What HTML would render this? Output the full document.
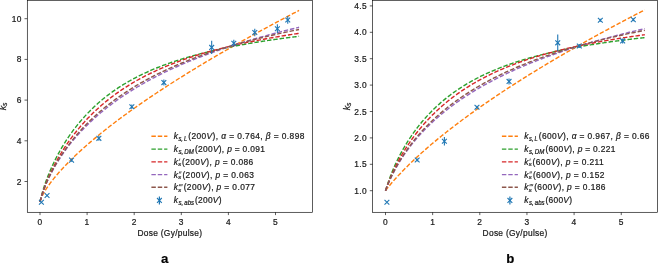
<!DOCTYPE html>
<html><head><meta charset="utf-8"><title>chart</title>
<style>html,body{margin:0;padding:0;background:#fff;}body{width:658px;height:264px;overflow:hidden;font-family:"Liberation Sans",sans-serif;}svg{display:block;will-change:transform;}text{stroke:#1a1a1a;stroke-width:0.22px;}</style>
</head><body>
<svg width="658" height="264" viewBox="0 0 658 264" font-family="'Liberation Sans', sans-serif" fill="#1a1a1a" letter-spacing="0.3">
<g>
<path d="M40.00 201.85 L41.18 198.15 L42.35 195.61 L43.53 193.39 L44.71 191.36 L45.89 189.46 L47.06 187.66 L48.24 185.93 L49.42 184.28 L50.60 182.68 L51.77 181.13 L52.95 179.62 L54.13 178.15 L55.31 176.71 L56.48 175.31 L57.66 173.93 L58.84 172.58 L60.02 171.25 L61.20 169.95 L62.37 168.66 L63.55 167.40 L64.73 166.15 L65.91 164.92 L67.08 163.70 L68.26 162.50 L69.44 161.32 L70.62 160.15 L71.79 158.99 L72.97 157.85 L74.15 156.71 L75.33 155.59 L76.50 154.48 L77.68 153.38 L78.86 152.29 L80.03 151.21 L81.21 150.14 L82.39 149.07 L83.57 148.02 L84.75 146.97 L85.92 145.94 L87.10 144.91 L88.28 143.88 L89.46 142.87 L90.63 141.86 L91.81 140.86 L92.99 139.87 L94.16 138.88 L95.34 137.90 L96.52 136.92 L97.70 135.96 L98.88 134.99 L100.05 134.04 L101.23 133.08 L102.41 132.14 L103.59 131.20 L104.76 130.26 L105.94 129.33 L107.12 128.41 L108.30 127.49 L109.47 126.57 L110.65 125.66 L111.83 124.75 L113.01 123.85 L114.18 122.95 L115.36 122.06 L116.54 121.17 L117.72 120.28 L118.89 119.40 L120.07 118.53 L121.25 117.65 L122.42 116.78 L123.60 115.92 L124.78 115.05 L125.96 114.20 L127.14 113.34 L128.31 112.49 L129.49 111.64 L130.67 110.80 L131.84 109.95 L133.02 109.12 L134.20 108.28 L135.38 107.45 L136.56 106.62 L137.73 105.79 L138.91 104.97 L140.09 104.15 L141.26 103.34 L142.44 102.52 L143.62 101.71 L144.80 100.90 L145.98 100.10 L147.15 99.29 L148.33 98.49 L149.51 97.70 L150.69 96.90 L151.86 96.11 L153.04 95.32 L154.22 94.53 L155.40 93.75 L156.57 92.96 L157.75 92.18 L158.93 91.41 L160.10 90.63 L161.28 89.86 L162.46 89.09 L163.64 88.32 L164.81 87.55 L165.99 86.79 L167.17 86.03 L168.35 85.27 L169.53 84.51 L170.70 83.75 L171.88 83.00 L173.06 82.25 L174.24 81.50 L175.41 80.75 L176.59 80.01 L177.77 79.26 L178.95 78.52 L180.12 77.78 L181.30 77.04 L182.48 76.31 L183.66 75.57 L184.83 74.84 L186.01 74.11 L187.19 73.38 L188.37 72.65 L189.54 71.93 L190.72 71.21 L191.90 70.48 L193.08 69.76 L194.25 69.05 L195.43 68.33 L196.61 67.62 L197.78 66.90 L198.96 66.19 L200.14 65.48 L201.32 64.77 L202.50 64.07 L203.67 63.36 L204.85 62.66 L206.03 61.95 L207.20 61.25 L208.38 60.55 L209.56 59.86 L210.74 59.16 L211.91 58.47 L213.09 57.77 L214.27 57.08 L215.45 56.39 L216.62 55.70 L217.80 55.01 L218.98 54.33 L220.16 53.64 L221.34 52.96 L222.51 52.28 L223.69 51.60 L224.87 50.92 L226.05 50.24 L227.22 49.56 L228.40 48.89 L229.58 48.21 L230.75 47.54 L231.93 46.87 L233.11 46.20 L234.29 45.53 L235.47 44.86 L236.64 44.20 L237.82 43.53 L239.00 42.87 L240.18 42.20 L241.35 41.54 L242.53 40.88 L243.71 40.22 L244.88 39.56 L246.06 38.91 L247.24 38.25 L248.42 37.60 L249.60 36.94 L250.77 36.29 L251.95 35.64 L253.13 34.99 L254.31 34.34 L255.48 33.69 L256.66 33.04 L257.84 32.40 L259.01 31.75 L260.19 31.11 L261.37 30.47 L262.55 29.83 L263.73 29.19 L264.90 28.55 L266.08 27.91 L267.26 27.27 L268.44 26.63 L269.61 26.00 L270.79 25.36 L271.97 24.73 L273.14 24.10 L274.32 23.47 L275.50 22.84 L276.68 22.21 L277.86 21.58 L279.03 20.95 L280.21 20.32 L281.39 19.70 L282.57 19.07 L283.74 18.45 L284.92 17.83 L286.10 17.20 L287.27 16.58 L288.45 15.96 L289.63 15.34 L290.81 14.72 L291.99 14.11 L293.16 13.49 L294.34 12.88 L295.52 12.26 L296.69 11.65 L297.87 11.03 L299.05 10.42" fill="none" stroke="#ff7f0e" stroke-width="1.40" stroke-dasharray="4.44 1.92"/>
<path d="M40.00 201.85 L41.18 196.86 L42.35 192.52 L43.53 188.59 L44.71 184.97 L45.89 181.58 L47.06 178.39 L48.24 175.35 L49.42 172.46 L50.60 169.68 L51.77 167.02 L52.95 164.45 L54.13 161.98 L55.31 159.59 L56.48 157.27 L57.66 155.02 L58.84 152.84 L60.02 150.72 L61.20 148.66 L62.37 146.66 L63.55 144.71 L64.73 142.80 L65.91 140.95 L67.08 139.14 L68.26 137.37 L69.44 135.65 L70.62 133.96 L71.79 132.32 L72.97 130.71 L74.15 129.13 L75.33 127.59 L76.50 126.08 L77.68 124.61 L78.86 123.17 L80.03 121.75 L81.21 120.37 L82.39 119.01 L83.57 117.68 L84.75 116.38 L85.92 115.10 L87.10 113.85 L88.28 112.62 L89.46 111.41 L90.63 110.23 L91.81 109.07 L92.99 107.93 L94.16 106.82 L95.34 105.72 L96.52 104.64 L97.70 103.59 L98.88 102.55 L100.05 101.53 L101.23 100.53 L102.41 99.55 L103.59 98.58 L104.76 97.63 L105.94 96.70 L107.12 95.79 L108.30 94.88 L109.47 94.00 L110.65 93.13 L111.83 92.27 L113.01 91.43 L114.18 90.60 L115.36 89.79 L116.54 88.99 L117.72 88.20 L118.89 87.43 L120.07 86.67 L121.25 85.92 L122.42 85.18 L123.60 84.45 L124.78 83.74 L125.96 83.03 L127.14 82.34 L128.31 81.66 L129.49 80.99 L130.67 80.33 L131.84 79.67 L133.02 79.03 L134.20 78.40 L135.38 77.78 L136.56 77.17 L137.73 76.56 L138.91 75.97 L140.09 75.38 L141.26 74.80 L142.44 74.23 L143.62 73.67 L144.80 73.12 L145.98 72.57 L147.15 72.03 L148.33 71.50 L149.51 70.98 L150.69 70.46 L151.86 69.95 L153.04 69.45 L154.22 68.96 L155.40 68.47 L156.57 67.99 L157.75 67.51 L158.93 67.04 L160.10 66.58 L161.28 66.12 L162.46 65.67 L163.64 65.22 L164.81 64.79 L165.99 64.35 L167.17 63.92 L168.35 63.50 L169.53 63.08 L170.70 62.67 L171.88 62.26 L173.06 61.86 L174.24 61.47 L175.41 61.07 L176.59 60.69 L177.77 60.30 L178.95 59.93 L180.12 59.55 L181.30 59.18 L182.48 58.82 L183.66 58.46 L184.83 58.10 L186.01 57.75 L187.19 57.40 L188.37 57.06 L189.54 56.72 L190.72 56.38 L191.90 56.05 L193.08 55.72 L194.25 55.40 L195.43 55.08 L196.61 54.76 L197.78 54.45 L198.96 54.14 L200.14 53.83 L201.32 53.53 L202.50 53.22 L203.67 52.93 L204.85 52.63 L206.03 52.34 L207.20 52.06 L208.38 51.77 L209.56 51.49 L210.74 51.21 L211.91 50.93 L213.09 50.66 L214.27 50.39 L215.45 50.12 L216.62 49.86 L217.80 49.60 L218.98 49.34 L220.16 49.08 L221.34 48.83 L222.51 48.58 L223.69 48.33 L224.87 48.08 L226.05 47.84 L227.22 47.59 L228.40 47.36 L229.58 47.12 L230.75 46.88 L231.93 46.65 L233.11 46.42 L234.29 46.19 L235.47 45.97 L236.64 45.74 L237.82 45.52 L239.00 45.30 L240.18 45.08 L241.35 44.87 L242.53 44.65 L243.71 44.44 L244.88 44.23 L246.06 44.03 L247.24 43.82 L248.42 43.62 L249.60 43.41 L250.77 43.21 L251.95 43.01 L253.13 42.82 L254.31 42.62 L255.48 42.43 L256.66 42.24 L257.84 42.05 L259.01 41.86 L260.19 41.67 L261.37 41.49 L262.55 41.30 L263.73 41.12 L264.90 40.94 L266.08 40.76 L267.26 40.58 L268.44 40.41 L269.61 40.23 L270.79 40.06 L271.97 39.89 L273.14 39.72 L274.32 39.55 L275.50 39.38 L276.68 39.22 L277.86 39.05 L279.03 38.89 L280.21 38.72 L281.39 38.56 L282.57 38.40 L283.74 38.25 L284.92 38.09 L286.10 37.93 L287.27 37.78 L288.45 37.63 L289.63 37.47 L290.81 37.32 L291.99 37.17 L293.16 37.02 L294.34 36.88 L295.52 36.73 L296.69 36.58 L297.87 36.44 L299.05 36.30" fill="none" stroke="#2ca02c" stroke-width="1.40" stroke-dasharray="4.44 1.92"/>
<path d="M40.00 201.85 L41.18 197.45 L42.35 193.56 L43.53 190.02 L44.71 186.73 L45.89 183.64 L47.06 180.72 L48.24 177.93 L49.42 175.26 L50.60 172.70 L51.77 170.23 L52.95 167.85 L54.13 165.54 L55.31 163.30 L56.48 161.13 L57.66 159.02 L58.84 156.97 L60.02 154.96 L61.20 153.01 L62.37 151.11 L63.55 149.25 L64.73 147.43 L65.91 145.65 L67.08 143.92 L68.26 142.22 L69.44 140.55 L70.62 138.92 L71.79 137.32 L72.97 135.76 L74.15 134.22 L75.33 132.71 L76.50 131.24 L77.68 129.79 L78.86 128.36 L80.03 126.97 L81.21 125.60 L82.39 124.25 L83.57 122.92 L84.75 121.62 L85.92 120.35 L87.10 119.09 L88.28 117.85 L89.46 116.64 L90.63 115.45 L91.81 114.27 L92.99 113.12 L94.16 111.98 L95.34 110.86 L96.52 109.76 L97.70 108.68 L98.88 107.61 L100.05 106.56 L101.23 105.53 L102.41 104.51 L103.59 103.51 L104.76 102.53 L105.94 101.55 L107.12 100.60 L108.30 99.66 L109.47 98.73 L110.65 97.81 L111.83 96.91 L113.01 96.02 L114.18 95.15 L115.36 94.29 L116.54 93.44 L117.72 92.60 L118.89 91.77 L120.07 90.96 L121.25 90.16 L122.42 89.37 L123.60 88.58 L124.78 87.82 L125.96 87.06 L127.14 86.31 L128.31 85.57 L129.49 84.84 L130.67 84.12 L131.84 83.41 L133.02 82.71 L134.20 82.02 L135.38 81.34 L136.56 80.67 L137.73 80.01 L138.91 79.35 L140.09 78.71 L141.26 78.07 L142.44 77.44 L143.62 76.82 L144.80 76.20 L145.98 75.60 L147.15 75.00 L148.33 74.41 L149.51 73.83 L150.69 73.25 L151.86 72.68 L153.04 72.12 L154.22 71.56 L155.40 71.02 L156.57 70.47 L157.75 69.94 L158.93 69.41 L160.10 68.89 L161.28 68.37 L162.46 67.86 L163.64 67.36 L164.81 66.86 L165.99 66.37 L167.17 65.88 L168.35 65.40 L169.53 64.93 L170.70 64.46 L171.88 63.99 L173.06 63.53 L174.24 63.08 L175.41 62.63 L176.59 62.19 L177.77 61.75 L178.95 61.31 L180.12 60.88 L181.30 60.46 L182.48 60.04 L183.66 59.62 L184.83 59.21 L186.01 58.81 L187.19 58.40 L188.37 58.01 L189.54 57.61 L190.72 57.22 L191.90 56.84 L193.08 56.46 L194.25 56.08 L195.43 55.71 L196.61 55.34 L197.78 54.97 L198.96 54.61 L200.14 54.25 L201.32 53.90 L202.50 53.54 L203.67 53.20 L204.85 52.85 L206.03 52.51 L207.20 52.17 L208.38 51.84 L209.56 51.51 L210.74 51.18 L211.91 50.86 L213.09 50.54 L214.27 50.22 L215.45 49.91 L216.62 49.59 L217.80 49.28 L218.98 48.98 L220.16 48.68 L221.34 48.38 L222.51 48.08 L223.69 47.78 L224.87 47.49 L226.05 47.20 L227.22 46.92 L228.40 46.63 L229.58 46.35 L230.75 46.07 L231.93 45.80 L233.11 45.52 L234.29 45.25 L235.47 44.98 L236.64 44.72 L237.82 44.45 L239.00 44.19 L240.18 43.93 L241.35 43.67 L242.53 43.42 L243.71 43.17 L244.88 42.92 L246.06 42.67 L247.24 42.42 L248.42 42.18 L249.60 41.94 L250.77 41.70 L251.95 41.46 L253.13 41.22 L254.31 40.99 L255.48 40.76 L256.66 40.53 L257.84 40.30 L259.01 40.07 L260.19 39.85 L261.37 39.63 L262.55 39.40 L263.73 39.19 L264.90 38.97 L266.08 38.75 L267.26 38.54 L268.44 38.33 L269.61 38.12 L270.79 37.91 L271.97 37.70 L273.14 37.50 L274.32 37.29 L275.50 37.09 L276.68 36.89 L277.86 36.69 L279.03 36.49 L280.21 36.30 L281.39 36.10 L282.57 35.91 L283.74 35.72 L284.92 35.53 L286.10 35.34 L287.27 35.15 L288.45 34.97 L289.63 34.78 L290.81 34.60 L291.99 34.42 L293.16 34.24 L294.34 34.06 L295.52 33.88 L296.69 33.70 L297.87 33.53 L299.05 33.35" fill="none" stroke="#d62728" stroke-width="1.40" stroke-dasharray="4.44 1.92"/>
<path d="M40.00 201.85 L41.18 197.63 L42.35 193.93 L43.53 190.57 L44.71 187.47 L45.89 184.56 L47.06 181.83 L48.24 179.23 L49.42 176.75 L50.60 174.37 L51.77 172.09 L52.95 169.88 L54.13 167.76 L55.31 165.70 L56.48 163.71 L57.66 161.77 L58.84 159.89 L60.02 158.06 L61.20 156.27 L62.37 154.53 L63.55 152.83 L64.73 151.17 L65.91 149.55 L67.08 147.96 L68.26 146.41 L69.44 144.89 L70.62 143.40 L71.79 141.94 L72.97 140.50 L74.15 139.10 L75.33 137.72 L76.50 136.36 L77.68 135.03 L78.86 133.72 L80.03 132.43 L81.21 131.16 L82.39 129.92 L83.57 128.69 L84.75 127.49 L85.92 126.30 L87.10 125.13 L88.28 123.98 L89.46 122.84 L90.63 121.72 L91.81 120.62 L92.99 119.53 L94.16 118.46 L95.34 117.40 L96.52 116.36 L97.70 115.33 L98.88 114.32 L100.05 113.32 L101.23 112.33 L102.41 111.35 L103.59 110.39 L104.76 109.43 L105.94 108.49 L107.12 107.56 L108.30 106.65 L109.47 105.74 L110.65 104.84 L111.83 103.96 L113.01 103.08 L114.18 102.22 L115.36 101.36 L116.54 100.52 L117.72 99.68 L118.89 98.85 L120.07 98.03 L121.25 97.22 L122.42 96.42 L123.60 95.63 L124.78 94.85 L125.96 94.07 L127.14 93.30 L128.31 92.54 L129.49 91.79 L130.67 91.05 L131.84 90.31 L133.02 89.58 L134.20 88.86 L135.38 88.14 L136.56 87.43 L137.73 86.73 L138.91 86.04 L140.09 85.35 L141.26 84.67 L142.44 83.99 L143.62 83.32 L144.80 82.66 L145.98 82.00 L147.15 81.35 L148.33 80.70 L149.51 80.06 L150.69 79.43 L151.86 78.80 L153.04 78.18 L154.22 77.56 L155.40 76.95 L156.57 76.34 L157.75 75.74 L158.93 75.14 L160.10 74.55 L161.28 73.97 L162.46 73.38 L163.64 72.81 L164.81 72.24 L165.99 71.67 L167.17 71.11 L168.35 70.55 L169.53 69.99 L170.70 69.44 L171.88 68.90 L173.06 68.36 L174.24 67.82 L175.41 67.29 L176.59 66.76 L177.77 66.24 L178.95 65.72 L180.12 65.20 L181.30 64.69 L182.48 64.18 L183.66 63.68 L184.83 63.18 L186.01 62.68 L187.19 62.19 L188.37 61.70 L189.54 61.21 L190.72 60.73 L191.90 60.25 L193.08 59.77 L194.25 59.30 L195.43 58.83 L196.61 58.37 L197.78 57.90 L198.96 57.45 L200.14 56.99 L201.32 56.54 L202.50 56.09 L203.67 55.64 L204.85 55.20 L206.03 54.76 L207.20 54.32 L208.38 53.89 L209.56 53.46 L210.74 53.03 L211.91 52.60 L213.09 52.18 L214.27 51.76 L215.45 51.34 L216.62 50.93 L217.80 50.52 L218.98 50.11 L220.16 49.70 L221.34 49.30 L222.51 48.90 L223.69 48.50 L224.87 48.10 L226.05 47.71 L227.22 47.32 L228.40 46.93 L229.58 46.54 L230.75 46.16 L231.93 45.78 L233.11 45.40 L234.29 45.02 L235.47 44.65 L236.64 44.27 L237.82 43.90 L239.00 43.54 L240.18 43.17 L241.35 42.81 L242.53 42.45 L243.71 42.09 L244.88 41.73 L246.06 41.37 L247.24 41.02 L248.42 40.67 L249.60 40.32 L250.77 39.98 L251.95 39.63 L253.13 39.29 L254.31 38.95 L255.48 38.61 L256.66 38.27 L257.84 37.94 L259.01 37.61 L260.19 37.28 L261.37 36.95 L262.55 36.62 L263.73 36.29 L264.90 35.97 L266.08 35.65 L267.26 35.33 L268.44 35.01 L269.61 34.69 L270.79 34.38 L271.97 34.07 L273.14 33.75 L274.32 33.44 L275.50 33.14 L276.68 32.83 L277.86 32.53 L279.03 32.22 L280.21 31.92 L281.39 31.62 L282.57 31.32 L283.74 31.03 L284.92 30.73 L286.10 30.44 L287.27 30.14 L288.45 29.85 L289.63 29.56 L290.81 29.28 L291.99 28.99 L293.16 28.71 L294.34 28.42 L295.52 28.14 L296.69 27.86 L297.87 27.58 L299.05 27.30" fill="none" stroke="#9467bd" stroke-width="1.40" stroke-dasharray="4.44 1.92"/>
<path d="M40.00 201.85 L41.18 197.58 L42.35 193.84 L43.53 190.43 L44.71 187.29 L45.89 184.34 L47.06 181.56 L48.24 178.91 L49.42 176.39 L50.60 173.96 L51.77 171.63 L52.95 169.39 L54.13 167.22 L55.31 165.12 L56.48 163.08 L57.66 161.10 L58.84 159.17 L60.02 157.30 L61.20 155.47 L62.37 153.69 L63.55 151.95 L64.73 150.25 L65.91 148.59 L67.08 146.96 L68.26 145.37 L69.44 143.81 L70.62 142.28 L71.79 140.79 L72.97 139.32 L74.15 137.88 L75.33 136.46 L76.50 135.07 L77.68 133.71 L78.86 132.37 L80.03 131.05 L81.21 129.75 L82.39 128.48 L83.57 127.22 L84.75 125.99 L85.92 124.77 L87.10 123.58 L88.28 122.40 L89.46 121.24 L90.63 120.10 L91.81 118.97 L92.99 117.86 L94.16 116.77 L95.34 115.69 L96.52 114.63 L97.70 113.58 L98.88 112.55 L100.05 111.53 L101.23 110.52 L102.41 109.53 L103.59 108.55 L104.76 107.58 L105.94 106.63 L107.12 105.69 L108.30 104.76 L109.47 103.84 L110.65 102.93 L111.83 102.04 L113.01 101.15 L114.18 100.28 L115.36 99.41 L116.54 98.56 L117.72 97.72 L118.89 96.88 L120.07 96.06 L121.25 95.25 L122.42 94.44 L123.60 93.65 L124.78 92.86 L125.96 92.08 L127.14 91.31 L128.31 90.55 L129.49 89.80 L130.67 89.06 L131.84 88.32 L133.02 87.59 L134.20 86.87 L135.38 86.16 L136.56 85.46 L137.73 84.76 L138.91 84.07 L140.09 83.38 L141.26 82.71 L142.44 82.04 L143.62 81.38 L144.80 80.72 L145.98 80.07 L147.15 79.43 L148.33 78.79 L149.51 78.17 L150.69 77.54 L151.86 76.92 L153.04 76.31 L154.22 75.71 L155.40 75.11 L156.57 74.52 L157.75 73.93 L158.93 73.35 L160.10 72.77 L161.28 72.20 L162.46 71.63 L163.64 71.07 L164.81 70.51 L165.99 69.96 L167.17 69.42 L168.35 68.88 L169.53 68.34 L170.70 67.81 L171.88 67.29 L173.06 66.77 L174.24 66.25 L175.41 65.74 L176.59 65.23 L177.77 64.73 L178.95 64.23 L180.12 63.74 L181.30 63.25 L182.48 62.76 L183.66 62.28 L184.83 61.81 L186.01 61.33 L187.19 60.86 L188.37 60.40 L189.54 59.94 L190.72 59.48 L191.90 59.03 L193.08 58.58 L194.25 58.14 L195.43 57.69 L196.61 57.26 L197.78 56.82 L198.96 56.39 L200.14 55.96 L201.32 55.54 L202.50 55.12 L203.67 54.70 L204.85 54.29 L206.03 53.88 L207.20 53.47 L208.38 53.07 L209.56 52.67 L210.74 52.27 L211.91 51.88 L213.09 51.49 L214.27 51.10 L215.45 50.71 L216.62 50.33 L217.80 49.95 L218.98 49.58 L220.16 49.20 L221.34 48.83 L222.51 48.47 L223.69 48.10 L224.87 47.74 L226.05 47.38 L227.22 47.03 L228.40 46.67 L229.58 46.32 L230.75 45.97 L231.93 45.63 L233.11 45.28 L234.29 44.94 L235.47 44.61 L236.64 44.27 L237.82 43.94 L239.00 43.61 L240.18 43.28 L241.35 42.95 L242.53 42.63 L243.71 42.31 L244.88 41.99 L246.06 41.67 L247.24 41.36 L248.42 41.05 L249.60 40.74 L250.77 40.43 L251.95 40.12 L253.13 39.82 L254.31 39.52 L255.48 39.22 L256.66 38.92 L257.84 38.63 L259.01 38.34 L260.19 38.05 L261.37 37.76 L262.55 37.47 L263.73 37.19 L264.90 36.90 L266.08 36.62 L267.26 36.34 L268.44 36.07 L269.61 35.79 L270.79 35.52 L271.97 35.25 L273.14 34.98 L274.32 34.71 L275.50 34.44 L276.68 34.18 L277.86 33.92 L279.03 33.66 L280.21 33.40 L281.39 33.14 L282.57 32.88 L283.74 32.63 L284.92 32.38 L286.10 32.13 L287.27 31.88 L288.45 31.63 L289.63 31.38 L290.81 31.14 L291.99 30.90 L293.16 30.66 L294.34 30.42 L295.52 30.18 L296.69 29.94 L297.87 29.71 L299.05 29.47" fill="none" stroke="#8c564b" stroke-width="1.40" stroke-dasharray="4.44 1.92"/>
<path d="M39.01 199.86 L43.81 204.66 M39.01 204.66 L43.81 199.86" stroke="#1f77b4" stroke-width="1.1" fill="none"/>
<path d="M44.66 193.14 L49.46 197.94 M44.66 197.94 L49.46 193.14" stroke="#1f77b4" stroke-width="1.1" fill="none"/>
<line x1="71.56" y1="158.63" x2="71.56" y2="161.63" stroke="#1f77b4" stroke-width="1.1"/>
<path d="M69.16 157.73 L73.96 162.53 M69.16 162.53 L73.96 157.73" stroke="#1f77b4" stroke-width="1.1" fill="none"/>
<line x1="98.88" y1="135.86" x2="98.88" y2="140.86" stroke="#1f77b4" stroke-width="1.1"/>
<path d="M96.47 135.96 L101.28 140.76 M96.47 140.76 L101.28 135.96" stroke="#1f77b4" stroke-width="1.1" fill="none"/>
<line x1="131.84" y1="104.62" x2="131.84" y2="109.02" stroke="#1f77b4" stroke-width="1.1"/>
<path d="M129.44 104.42 L134.25 109.22 M129.44 109.22 L134.25 104.42" stroke="#1f77b4" stroke-width="1.1" fill="none"/>
<line x1="163.87" y1="79.60" x2="163.87" y2="85.60" stroke="#1f77b4" stroke-width="1.1"/>
<path d="M161.47 80.20 L166.27 85.00 M161.47 85.00 L166.27 80.20" stroke="#1f77b4" stroke-width="1.1" fill="none"/>
<line x1="211.68" y1="40.79" x2="211.68" y2="53.99" stroke="#1f77b4" stroke-width="1.1"/>
<path d="M209.28 44.99 L214.08 49.79 M209.28 49.79 L214.08 44.99" stroke="#1f77b4" stroke-width="1.1" fill="none"/>
<line x1="233.82" y1="39.82" x2="233.82" y2="46.82" stroke="#1f77b4" stroke-width="1.1"/>
<path d="M231.42 40.92 L236.22 45.72 M231.42 45.72 L236.22 40.92" stroke="#1f77b4" stroke-width="1.1" fill="none"/>
<line x1="254.78" y1="28.74" x2="254.78" y2="36.34" stroke="#1f77b4" stroke-width="1.1"/>
<path d="M252.38 30.14 L257.18 34.94 M252.38 34.94 L257.18 30.14" stroke="#1f77b4" stroke-width="1.1" fill="none"/>
<line x1="277.38" y1="24.37" x2="277.38" y2="32.97" stroke="#1f77b4" stroke-width="1.1"/>
<path d="M274.98 26.27 L279.78 31.07 M274.98 31.07 L279.78 26.27" stroke="#1f77b4" stroke-width="1.1" fill="none"/>
<line x1="287.75" y1="16.02" x2="287.75" y2="23.82" stroke="#1f77b4" stroke-width="1.1"/>
<path d="M285.35 17.52 L290.15 22.32 M285.35 22.32 L290.15 17.52" stroke="#1f77b4" stroke-width="1.1" fill="none"/>
<rect x="27.30" y="0.30" width="285.20" height="212.00" fill="none" stroke="#000" stroke-width="0.64"/>
<line x1="40.00" y1="212.30" x2="40.00" y2="215.10" stroke="#000" stroke-width="0.64"/>
<text x="40.00" y="224.60" font-size="8.40" text-anchor="middle">0</text>
<line x1="87.10" y1="212.30" x2="87.10" y2="215.10" stroke="#000" stroke-width="0.64"/>
<text x="87.10" y="224.60" font-size="8.40" text-anchor="middle">1</text>
<line x1="134.20" y1="212.30" x2="134.20" y2="215.10" stroke="#000" stroke-width="0.64"/>
<text x="134.20" y="224.60" font-size="8.40" text-anchor="middle">2</text>
<line x1="181.30" y1="212.30" x2="181.30" y2="215.10" stroke="#000" stroke-width="0.64"/>
<text x="181.30" y="224.60" font-size="8.40" text-anchor="middle">3</text>
<line x1="228.40" y1="212.30" x2="228.40" y2="215.10" stroke="#000" stroke-width="0.64"/>
<text x="228.40" y="224.60" font-size="8.40" text-anchor="middle">4</text>
<line x1="275.50" y1="212.30" x2="275.50" y2="215.10" stroke="#000" stroke-width="0.64"/>
<text x="275.50" y="224.60" font-size="8.40" text-anchor="middle">5</text>
<line x1="24.50" y1="181.50" x2="27.30" y2="181.50" stroke="#000" stroke-width="0.64"/>
<text x="21.60" y="184.51" font-size="8.40" text-anchor="end">2</text>
<line x1="24.50" y1="140.80" x2="27.30" y2="140.80" stroke="#000" stroke-width="0.64"/>
<text x="21.60" y="143.81" font-size="8.40" text-anchor="end">4</text>
<line x1="24.50" y1="100.10" x2="27.30" y2="100.10" stroke="#000" stroke-width="0.64"/>
<text x="21.60" y="103.11" font-size="8.40" text-anchor="end">6</text>
<line x1="24.50" y1="59.40" x2="27.30" y2="59.40" stroke="#000" stroke-width="0.64"/>
<text x="21.60" y="62.41" font-size="8.40" text-anchor="end">8</text>
<line x1="24.50" y1="18.70" x2="27.30" y2="18.70" stroke="#000" stroke-width="0.64"/>
<text x="21.60" y="21.71" font-size="8.40" text-anchor="end">10</text>
<text x="169.90" y="235.60" font-size="8.40" text-anchor="middle">Dose (Gy/pulse)</text>
<text transform="translate(5.80 106.50) rotate(-90)" font-size="9.00" text-anchor="middle" font-style="italic" letter-spacing="0">k<tspan font-size="6.80" dy="1.3" dx="-0.2">s</tspan></text>
<text x="164.60" y="263.20" font-size="13.2" font-weight="bold" fill="#000" letter-spacing="0" text-anchor="middle">a</text>
<line x1="151.40" y1="136.20" x2="167.40" y2="136.20" stroke="#ff7f0e" stroke-width="1.4" stroke-dasharray="4.44 1.92"/>
<text x="173.80" y="139.20" font-size="8.40" font-style="italic">k</text>
<text x="178.40" y="141.10" font-size="6.50" font-style="italic" letter-spacing="0" textLength="8.80" lengthAdjust="spacingAndGlyphs">s,&#8201;L</text>
<text x="188.20" y="139.20" font-size="8.40" textLength="116.50" lengthAdjust="spacing">(200<tspan font-style="italic">V</tspan>), <tspan font-style="italic">α</tspan> = 0.764, <tspan font-style="italic">β</tspan> = 0.898</text>
<line x1="151.40" y1="149.10" x2="167.40" y2="149.10" stroke="#2ca02c" stroke-width="1.4" stroke-dasharray="4.44 1.92"/>
<text x="173.80" y="152.10" font-size="8.40" font-style="italic">k</text>
<text x="178.40" y="154.00" font-size="6.50" font-style="italic" letter-spacing="0" textLength="15.50" lengthAdjust="spacingAndGlyphs">s,&#8201;DM</text>
<text x="194.90" y="152.10" font-size="8.40" textLength="70.20" lengthAdjust="spacing">(200<tspan font-style="italic">V</tspan>), <tspan font-style="italic">p</tspan> = 0.091</text>
<line x1="151.40" y1="161.90" x2="167.40" y2="161.90" stroke="#d62728" stroke-width="1.4" stroke-dasharray="4.44 1.92"/>
<text x="173.80" y="164.90" font-size="8.40" font-style="italic">k</text>
<text x="178.30" y="166.10" font-size="6.00" font-style="italic" letter-spacing="0">s</text>
<line x1="179.85" y1="158.60" x2="179.30" y2="160.80" stroke="#1a1a1a" stroke-width="0.7"/>
<text x="182.00" y="164.90" font-size="8.40" textLength="71.50" lengthAdjust="spacing">(200<tspan font-style="italic">V</tspan>), <tspan font-style="italic">p</tspan> = 0.086</text>
<line x1="151.40" y1="174.60" x2="167.40" y2="174.60" stroke="#9467bd" stroke-width="1.4" stroke-dasharray="4.44 1.92"/>
<text x="173.80" y="177.60" font-size="8.40" font-style="italic">k</text>
<text x="178.30" y="178.80" font-size="6.00" font-style="italic" letter-spacing="0">s</text>
<line x1="179.85" y1="171.30" x2="179.30" y2="173.50" stroke="#1a1a1a" stroke-width="0.7"/>
<line x1="181.10" y1="171.30" x2="180.55" y2="173.50" stroke="#1a1a1a" stroke-width="0.7"/>
<text x="182.40" y="177.60" font-size="8.40" textLength="71.80" lengthAdjust="spacing">(200<tspan font-style="italic">V</tspan>), <tspan font-style="italic">p</tspan> = 0.063</text>
<line x1="151.40" y1="187.30" x2="167.40" y2="187.30" stroke="#8c564b" stroke-width="1.4" stroke-dasharray="4.44 1.92"/>
<text x="173.80" y="190.30" font-size="8.40" font-style="italic">k</text>
<text x="178.30" y="191.50" font-size="6.00" font-style="italic" letter-spacing="0">s</text>
<line x1="179.85" y1="184.00" x2="179.30" y2="186.20" stroke="#1a1a1a" stroke-width="0.7"/>
<line x1="181.10" y1="184.00" x2="180.55" y2="186.20" stroke="#1a1a1a" stroke-width="0.7"/>
<line x1="182.35" y1="184.00" x2="181.80" y2="186.20" stroke="#1a1a1a" stroke-width="0.7"/>
<text x="183.70" y="190.30" font-size="8.40" textLength="71.50" lengthAdjust="spacing">(200<tspan font-style="italic">V</tspan>), <tspan font-style="italic">p</tspan> = 0.077</text>
<line x1="159.40" y1="196.40" x2="159.40" y2="204.40" stroke="#1f77b4" stroke-width="1.2"/>
<path d="M157.00 198.00 L161.80 202.80 M157.00 202.80 L161.80 198.00" stroke="#1f77b4" stroke-width="1.1" fill="none"/>
<text x="173.80" y="203.40" font-size="8.40" font-style="italic">k</text>
<text x="178.40" y="205.30" font-size="6.50" font-style="italic" letter-spacing="0" textLength="15.60" lengthAdjust="spacingAndGlyphs">s,&#8201;abs</text>
<text x="195.00" y="203.40" font-size="8.40" textLength="26.80" lengthAdjust="spacing">(200<tspan font-style="italic">V</tspan>)</text>
<path d="M385.50 190.70 L386.68 189.10 L387.86 187.59 L389.04 186.13 L390.21 184.71 L391.39 183.31 L392.57 181.94 L393.75 180.60 L394.93 179.27 L396.11 177.96 L397.29 176.68 L398.47 175.40 L399.64 174.15 L400.82 172.91 L402.00 171.68 L403.18 170.47 L404.36 169.27 L405.54 168.08 L406.72 166.90 L407.90 165.74 L409.07 164.59 L410.25 163.44 L411.43 162.31 L412.61 161.19 L413.79 160.07 L414.97 158.97 L416.15 157.87 L417.33 156.78 L418.50 155.70 L419.68 154.63 L420.86 153.57 L422.04 152.51 L423.22 151.47 L424.40 150.43 L425.58 149.39 L426.76 148.36 L427.94 147.34 L429.11 146.33 L430.29 145.32 L431.47 144.32 L432.65 143.32 L433.83 142.33 L435.01 141.35 L436.19 140.37 L437.37 139.40 L438.54 138.43 L439.72 137.47 L440.90 136.51 L442.08 135.56 L443.26 134.61 L444.44 133.67 L445.62 132.73 L446.80 131.80 L447.97 130.87 L449.15 129.95 L450.33 129.03 L451.51 128.12 L452.69 127.20 L453.87 126.30 L455.05 125.40 L456.23 124.50 L457.40 123.60 L458.58 122.71 L459.76 121.83 L460.94 120.94 L462.12 120.06 L463.30 119.19 L464.48 118.32 L465.65 117.45 L466.83 116.58 L468.01 115.72 L469.19 114.86 L470.37 114.01 L471.55 113.16 L472.73 112.31 L473.91 111.47 L475.08 110.62 L476.26 109.79 L477.44 108.95 L478.62 108.12 L479.80 107.29 L480.98 106.46 L482.16 105.64 L483.34 104.82 L484.51 104.00 L485.69 103.18 L486.87 102.37 L488.05 101.56 L489.23 100.75 L490.41 99.95 L491.59 99.15 L492.77 98.35 L493.94 97.55 L495.12 96.76 L496.30 95.96 L497.48 95.18 L498.66 94.39 L499.84 93.60 L501.02 92.82 L502.20 92.04 L503.38 91.26 L504.55 90.49 L505.73 89.72 L506.91 88.95 L508.09 88.18 L509.27 87.41 L510.45 86.65 L511.63 85.88 L512.81 85.13 L513.98 84.37 L515.16 83.61 L516.34 82.86 L517.52 82.11 L518.70 81.36 L519.88 80.61 L521.06 79.86 L522.24 79.12 L523.41 78.38 L524.59 77.64 L525.77 76.90 L526.95 76.17 L528.13 75.43 L529.31 74.70 L530.49 73.97 L531.66 73.24 L532.84 72.51 L534.02 71.79 L535.20 71.07 L536.38 70.34 L537.56 69.62 L538.74 68.91 L539.92 68.19 L541.10 67.48 L542.27 66.76 L543.45 66.05 L544.63 65.34 L545.81 64.63 L546.99 63.93 L548.17 63.22 L549.35 62.52 L550.52 61.82 L551.70 61.12 L552.88 60.42 L554.06 59.72 L555.24 59.03 L556.42 58.33 L557.60 57.64 L558.78 56.95 L559.96 56.26 L561.13 55.57 L562.31 54.88 L563.49 54.20 L564.67 53.52 L565.85 52.83 L567.03 52.15 L568.21 51.47 L569.38 50.79 L570.56 50.12 L571.74 49.44 L572.92 48.77 L574.10 48.10 L575.28 47.42 L576.46 46.75 L577.64 46.08 L578.81 45.42 L579.99 44.75 L581.17 44.09 L582.35 43.42 L583.53 42.76 L584.71 42.10 L585.89 41.44 L587.07 40.78 L588.25 40.12 L589.42 39.47 L590.60 38.81 L591.78 38.16 L592.96 37.51 L594.14 36.85 L595.32 36.20 L596.50 35.55 L597.67 34.91 L598.85 34.26 L600.03 33.61 L601.21 32.97 L602.39 32.33 L603.57 31.68 L604.75 31.04 L605.93 30.40 L607.11 29.76 L608.28 29.13 L609.46 28.49 L610.64 27.85 L611.82 27.22 L613.00 26.59 L614.18 25.95 L615.36 25.32 L616.53 24.69 L617.71 24.06 L618.89 23.43 L620.07 22.81 L621.25 22.18 L622.43 21.56 L623.61 20.93 L624.79 20.31 L625.96 19.69 L627.14 19.06 L628.32 18.44 L629.50 17.82 L630.68 17.21 L631.86 16.59 L633.04 15.97 L634.22 15.36 L635.39 14.74 L636.57 14.13 L637.75 13.52 L638.93 12.91 L640.11 12.29 L641.29 11.68 L642.47 11.08 L643.65 10.47 L644.83 9.86" fill="none" stroke="#ff7f0e" stroke-width="1.40" stroke-dasharray="4.44 1.92"/>
<path d="M385.50 190.70 L386.68 186.86 L387.86 183.28 L389.04 179.90 L390.21 176.71 L391.39 173.67 L392.57 170.77 L393.75 167.99 L394.93 165.32 L396.11 162.75 L397.29 160.27 L398.47 157.88 L399.64 155.57 L400.82 153.33 L402.00 151.15 L403.18 149.04 L404.36 146.99 L405.54 145.00 L406.72 143.06 L407.90 141.18 L409.07 139.34 L410.25 137.55 L411.43 135.80 L412.61 134.09 L413.79 132.43 L414.97 130.80 L416.15 129.21 L417.33 127.66 L418.50 126.14 L419.68 124.66 L420.86 123.21 L422.04 121.79 L423.22 120.40 L424.40 119.04 L425.58 117.70 L426.76 116.40 L427.94 115.12 L429.11 113.86 L430.29 112.64 L431.47 111.43 L432.65 110.25 L433.83 109.09 L435.01 107.96 L436.19 106.84 L437.37 105.75 L438.54 104.67 L439.72 103.62 L440.90 102.59 L442.08 101.57 L443.26 100.58 L444.44 99.60 L445.62 98.64 L446.80 97.69 L447.97 96.77 L449.15 95.85 L450.33 94.96 L451.51 94.08 L452.69 93.21 L453.87 92.36 L455.05 91.53 L456.23 90.71 L457.40 89.90 L458.58 89.10 L459.76 88.32 L460.94 87.56 L462.12 86.80 L463.30 86.06 L464.48 85.32 L465.65 84.60 L466.83 83.90 L468.01 83.20 L469.19 82.51 L470.37 81.84 L471.55 81.17 L472.73 80.52 L473.91 79.88 L475.08 79.24 L476.26 78.62 L477.44 78.00 L478.62 77.40 L479.80 76.80 L480.98 76.21 L482.16 75.63 L483.34 75.06 L484.51 74.50 L485.69 73.95 L486.87 73.40 L488.05 72.86 L489.23 72.33 L490.41 71.81 L491.59 71.30 L492.77 70.79 L493.94 70.29 L495.12 69.80 L496.30 69.31 L497.48 68.83 L498.66 68.36 L499.84 67.89 L501.02 67.43 L502.20 66.98 L503.38 66.53 L504.55 66.09 L505.73 65.65 L506.91 65.22 L508.09 64.80 L509.27 64.38 L510.45 63.97 L511.63 63.56 L512.81 63.16 L513.98 62.76 L515.16 62.37 L516.34 61.98 L517.52 61.60 L518.70 61.22 L519.88 60.85 L521.06 60.48 L522.24 60.12 L523.41 59.76 L524.59 59.41 L525.77 59.06 L526.95 58.71 L528.13 58.37 L529.31 58.03 L530.49 57.70 L531.66 57.37 L532.84 57.05 L534.02 56.72 L535.20 56.41 L536.38 56.09 L537.56 55.78 L538.74 55.48 L539.92 55.17 L541.10 54.87 L542.27 54.58 L543.45 54.29 L544.63 54.00 L545.81 53.71 L546.99 53.43 L548.17 53.15 L549.35 52.87 L550.52 52.60 L551.70 52.33 L552.88 52.06 L554.06 51.80 L555.24 51.53 L556.42 51.28 L557.60 51.02 L558.78 50.77 L559.96 50.52 L561.13 50.27 L562.31 50.02 L563.49 49.78 L564.67 49.54 L565.85 49.30 L567.03 49.07 L568.21 48.83 L569.38 48.60 L570.56 48.38 L571.74 48.15 L572.92 47.93 L574.10 47.71 L575.28 47.49 L576.46 47.27 L577.64 47.05 L578.81 46.84 L579.99 46.63 L581.17 46.42 L582.35 46.22 L583.53 46.01 L584.71 45.81 L585.89 45.61 L587.07 45.41 L588.25 45.22 L589.42 45.02 L590.60 44.83 L591.78 44.64 L592.96 44.45 L594.14 44.26 L595.32 44.07 L596.50 43.89 L597.67 43.71 L598.85 43.53 L600.03 43.35 L601.21 43.17 L602.39 43.00 L603.57 42.82 L604.75 42.65 L605.93 42.48 L607.11 42.31 L608.28 42.14 L609.46 41.97 L610.64 41.81 L611.82 41.65 L613.00 41.48 L614.18 41.32 L615.36 41.16 L616.53 41.01 L617.71 40.85 L618.89 40.69 L620.07 40.54 L621.25 40.39 L622.43 40.24 L623.61 40.09 L624.79 39.94 L625.96 39.79 L627.14 39.64 L628.32 39.50 L629.50 39.35 L630.68 39.21 L631.86 39.07 L633.04 38.93 L634.22 38.79 L635.39 38.65 L636.57 38.51 L637.75 38.38 L638.93 38.24 L640.11 38.11 L641.29 37.98 L642.47 37.84 L643.65 37.71 L644.83 37.58" fill="none" stroke="#2ca02c" stroke-width="1.40" stroke-dasharray="4.44 1.92"/>
<path d="M385.50 190.70 L386.68 187.30 L387.86 184.09 L389.04 181.06 L390.21 178.16 L391.39 175.40 L392.57 172.74 L393.75 170.19 L394.93 167.73 L396.11 165.35 L397.29 163.05 L398.47 160.82 L399.64 158.66 L400.82 156.56 L402.00 154.52 L403.18 152.53 L404.36 150.59 L405.54 148.70 L406.72 146.86 L407.90 145.06 L409.07 143.30 L410.25 141.59 L411.43 139.91 L412.61 138.26 L413.79 136.66 L414.97 135.08 L416.15 133.54 L417.33 132.03 L418.50 130.55 L419.68 129.10 L420.86 127.68 L422.04 126.28 L423.22 124.91 L424.40 123.57 L425.58 122.25 L426.76 120.95 L427.94 119.68 L429.11 118.43 L430.29 117.21 L431.47 116.00 L432.65 114.81 L433.83 113.65 L435.01 112.50 L436.19 111.38 L437.37 110.27 L438.54 109.18 L439.72 108.11 L440.90 107.06 L442.08 106.02 L443.26 105.00 L444.44 104.00 L445.62 103.01 L446.80 102.04 L447.97 101.08 L449.15 100.14 L450.33 99.21 L451.51 98.29 L452.69 97.39 L453.87 96.51 L455.05 95.63 L456.23 94.77 L457.40 93.92 L458.58 93.09 L459.76 92.27 L460.94 91.45 L462.12 90.65 L463.30 89.87 L464.48 89.09 L465.65 88.32 L466.83 87.57 L468.01 86.82 L469.19 86.09 L470.37 85.37 L471.55 84.65 L472.73 83.95 L473.91 83.26 L475.08 82.57 L476.26 81.90 L477.44 81.23 L478.62 80.57 L479.80 79.92 L480.98 79.28 L482.16 78.65 L483.34 78.03 L484.51 77.42 L485.69 76.81 L486.87 76.21 L488.05 75.62 L489.23 75.04 L490.41 74.46 L491.59 73.89 L492.77 73.33 L493.94 72.77 L495.12 72.23 L496.30 71.69 L497.48 71.15 L498.66 70.63 L499.84 70.11 L501.02 69.59 L502.20 69.08 L503.38 68.58 L504.55 68.09 L505.73 67.60 L506.91 67.11 L508.09 66.64 L509.27 66.16 L510.45 65.70 L511.63 65.24 L512.81 64.78 L513.98 64.33 L515.16 63.89 L516.34 63.45 L517.52 63.01 L518.70 62.58 L519.88 62.16 L521.06 61.74 L522.24 61.33 L523.41 60.92 L524.59 60.51 L525.77 60.11 L526.95 59.71 L528.13 59.32 L529.31 58.93 L530.49 58.55 L531.66 58.17 L532.84 57.80 L534.02 57.42 L535.20 57.06 L536.38 56.69 L537.56 56.34 L538.74 55.98 L539.92 55.63 L541.10 55.28 L542.27 54.94 L543.45 54.60 L544.63 54.26 L545.81 53.93 L546.99 53.60 L548.17 53.27 L549.35 52.95 L550.52 52.63 L551.70 52.31 L552.88 52.00 L554.06 51.69 L555.24 51.39 L556.42 51.08 L557.60 50.78 L558.78 50.48 L559.96 50.19 L561.13 49.90 L562.31 49.61 L563.49 49.32 L564.67 49.04 L565.85 48.76 L567.03 48.48 L568.21 48.21 L569.38 47.94 L570.56 47.67 L571.74 47.40 L572.92 47.13 L574.10 46.87 L575.28 46.61 L576.46 46.36 L577.64 46.10 L578.81 45.85 L579.99 45.60 L581.17 45.35 L582.35 45.11 L583.53 44.86 L584.71 44.62 L585.89 44.38 L587.07 44.15 L588.25 43.91 L589.42 43.68 L590.60 43.45 L591.78 43.22 L592.96 43.00 L594.14 42.77 L595.32 42.55 L596.50 42.33 L597.67 42.11 L598.85 41.90 L600.03 41.68 L601.21 41.47 L602.39 41.26 L603.57 41.05 L604.75 40.84 L605.93 40.64 L607.11 40.43 L608.28 40.23 L609.46 40.03 L610.64 39.83 L611.82 39.64 L613.00 39.44 L614.18 39.25 L615.36 39.05 L616.53 38.86 L617.71 38.68 L618.89 38.49 L620.07 38.30 L621.25 38.12 L622.43 37.94 L623.61 37.75 L624.79 37.57 L625.96 37.40 L627.14 37.22 L628.32 37.04 L629.50 36.87 L630.68 36.70 L631.86 36.52 L633.04 36.35 L634.22 36.19 L635.39 36.02 L636.57 35.85 L637.75 35.69 L638.93 35.52 L640.11 35.36 L641.29 35.20 L642.47 35.04 L643.65 34.88 L644.83 34.72" fill="none" stroke="#d62728" stroke-width="1.40" stroke-dasharray="4.44 1.92"/>
<path d="M385.50 190.70 L386.68 187.60 L387.86 184.69 L389.04 181.93 L390.21 179.31 L391.39 176.80 L392.57 174.41 L393.75 172.10 L394.93 169.88 L396.11 167.74 L397.29 165.67 L398.47 163.66 L399.64 161.72 L400.82 159.83 L402.00 157.99 L403.18 156.21 L404.36 154.46 L405.54 152.77 L406.72 151.11 L407.90 149.49 L409.07 147.91 L410.25 146.36 L411.43 144.85 L412.61 143.37 L413.79 141.91 L414.97 140.49 L416.15 139.09 L417.33 137.72 L418.50 136.38 L419.68 135.06 L420.86 133.77 L422.04 132.49 L423.22 131.24 L424.40 130.01 L425.58 128.80 L426.76 127.61 L427.94 126.44 L429.11 125.29 L430.29 124.15 L431.47 123.03 L432.65 121.93 L433.83 120.85 L435.01 119.78 L436.19 118.72 L437.37 117.68 L438.54 116.66 L439.72 115.65 L440.90 114.65 L442.08 113.67 L443.26 112.70 L444.44 111.74 L445.62 110.79 L446.80 109.86 L447.97 108.94 L449.15 108.03 L450.33 107.13 L451.51 106.24 L452.69 105.36 L453.87 104.49 L455.05 103.64 L456.23 102.79 L457.40 101.95 L458.58 101.12 L459.76 100.31 L460.94 99.50 L462.12 98.70 L463.30 97.90 L464.48 97.12 L465.65 96.35 L466.83 95.58 L468.01 94.82 L469.19 94.07 L470.37 93.33 L471.55 92.59 L472.73 91.86 L473.91 91.14 L475.08 90.43 L476.26 89.72 L477.44 89.03 L478.62 88.33 L479.80 87.65 L480.98 86.97 L482.16 86.30 L483.34 85.63 L484.51 84.97 L485.69 84.32 L486.87 83.67 L488.05 83.03 L489.23 82.39 L490.41 81.76 L491.59 81.14 L492.77 80.52 L493.94 79.90 L495.12 79.29 L496.30 78.69 L497.48 78.09 L498.66 77.50 L499.84 76.91 L501.02 76.33 L502.20 75.75 L503.38 75.18 L504.55 74.61 L505.73 74.05 L506.91 73.49 L508.09 72.94 L509.27 72.39 L510.45 71.84 L511.63 71.30 L512.81 70.76 L513.98 70.23 L515.16 69.70 L516.34 69.18 L517.52 68.66 L518.70 68.14 L519.88 67.63 L521.06 67.12 L522.24 66.62 L523.41 66.12 L524.59 65.62 L525.77 65.13 L526.95 64.64 L528.13 64.16 L529.31 63.67 L530.49 63.19 L531.66 62.72 L532.84 62.25 L534.02 61.78 L535.20 61.31 L536.38 60.85 L537.56 60.39 L538.74 59.94 L539.92 59.49 L541.10 59.04 L542.27 58.59 L543.45 58.15 L544.63 57.71 L545.81 57.27 L546.99 56.84 L548.17 56.41 L549.35 55.98 L550.52 55.56 L551.70 55.14 L552.88 54.72 L554.06 54.30 L555.24 53.89 L556.42 53.47 L557.60 53.07 L558.78 52.66 L559.96 52.26 L561.13 51.86 L562.31 51.46 L563.49 51.06 L564.67 50.67 L565.85 50.28 L567.03 49.89 L568.21 49.51 L569.38 49.12 L570.56 48.74 L571.74 48.36 L572.92 47.99 L574.10 47.61 L575.28 47.24 L576.46 46.87 L577.64 46.51 L578.81 46.14 L579.99 45.78 L581.17 45.42 L582.35 45.06 L583.53 44.70 L584.71 44.35 L585.89 44.00 L587.07 43.65 L588.25 43.30 L589.42 42.95 L590.60 42.61 L591.78 42.27 L592.96 41.93 L594.14 41.59 L595.32 41.25 L596.50 40.92 L597.67 40.59 L598.85 40.26 L600.03 39.93 L601.21 39.60 L602.39 39.27 L603.57 38.95 L604.75 38.63 L605.93 38.31 L607.11 37.99 L608.28 37.68 L609.46 37.36 L610.64 37.05 L611.82 36.74 L613.00 36.43 L614.18 36.12 L615.36 35.81 L616.53 35.51 L617.71 35.21 L618.89 34.90 L620.07 34.61 L621.25 34.31 L622.43 34.01 L623.61 33.72 L624.79 33.42 L625.96 33.13 L627.14 32.84 L628.32 32.55 L629.50 32.26 L630.68 31.98 L631.86 31.69 L633.04 31.41 L634.22 31.13 L635.39 30.85 L636.57 30.57 L637.75 30.29 L638.93 30.01 L640.11 29.74 L641.29 29.47 L642.47 29.19 L643.65 28.92 L644.83 28.65" fill="none" stroke="#9467bd" stroke-width="1.40" stroke-dasharray="4.44 1.92"/>
<path d="M385.50 190.70 L386.68 187.53 L387.86 184.56 L389.04 181.74 L390.21 179.06 L391.39 176.50 L392.57 174.04 L393.75 171.68 L394.93 169.41 L396.11 167.22 L397.29 165.10 L398.47 163.04 L399.64 161.05 L400.82 159.11 L402.00 157.23 L403.18 155.39 L404.36 153.61 L405.54 151.87 L406.72 150.17 L407.90 148.51 L409.07 146.89 L410.25 145.30 L411.43 143.75 L412.61 142.23 L413.79 140.74 L414.97 139.28 L416.15 137.85 L417.33 136.45 L418.50 135.07 L419.68 133.72 L420.86 132.39 L422.04 131.09 L423.22 129.81 L424.40 128.55 L425.58 127.31 L426.76 126.09 L427.94 124.89 L429.11 123.71 L430.29 122.55 L431.47 121.41 L432.65 120.29 L433.83 119.18 L435.01 118.09 L436.19 117.02 L437.37 115.96 L438.54 114.91 L439.72 113.88 L440.90 112.87 L442.08 111.87 L443.26 110.88 L444.44 109.91 L445.62 108.95 L446.80 108.00 L447.97 107.06 L449.15 106.14 L450.33 105.23 L451.51 104.33 L452.69 103.44 L453.87 102.56 L455.05 101.69 L456.23 100.84 L457.40 99.99 L458.58 99.16 L459.76 98.33 L460.94 97.52 L462.12 96.71 L463.30 95.91 L464.48 95.12 L465.65 94.35 L466.83 93.58 L468.01 92.81 L469.19 92.06 L470.37 91.32 L471.55 90.58 L472.73 89.85 L473.91 89.13 L475.08 88.42 L476.26 87.72 L477.44 87.02 L478.62 86.33 L479.80 85.64 L480.98 84.97 L482.16 84.30 L483.34 83.64 L484.51 82.98 L485.69 82.33 L486.87 81.69 L488.05 81.06 L489.23 80.43 L490.41 79.80 L491.59 79.19 L492.77 78.58 L493.94 77.97 L495.12 77.37 L496.30 76.78 L497.48 76.19 L498.66 75.61 L499.84 75.03 L501.02 74.46 L502.20 73.90 L503.38 73.34 L504.55 72.78 L505.73 72.23 L506.91 71.69 L508.09 71.15 L509.27 70.61 L510.45 70.08 L511.63 69.55 L512.81 69.03 L513.98 68.52 L515.16 68.00 L516.34 67.50 L517.52 66.99 L518.70 66.50 L519.88 66.00 L521.06 65.51 L522.24 65.03 L523.41 64.54 L524.59 64.07 L525.77 63.59 L526.95 63.12 L528.13 62.66 L529.31 62.20 L530.49 61.74 L531.66 61.29 L532.84 60.84 L534.02 60.39 L535.20 59.95 L536.38 59.51 L537.56 59.07 L538.74 58.64 L539.92 58.21 L541.10 57.79 L542.27 57.37 L543.45 56.95 L544.63 56.53 L545.81 56.12 L546.99 55.71 L548.17 55.31 L549.35 54.91 L550.52 54.51 L551.70 54.11 L552.88 53.72 L554.06 53.33 L555.24 52.94 L556.42 52.56 L557.60 52.18 L558.78 51.80 L559.96 51.42 L561.13 51.05 L562.31 50.68 L563.49 50.32 L564.67 49.95 L565.85 49.59 L567.03 49.23 L568.21 48.88 L569.38 48.52 L570.56 48.17 L571.74 47.83 L572.92 47.48 L574.10 47.14 L575.28 46.80 L576.46 46.46 L577.64 46.12 L578.81 45.79 L579.99 45.46 L581.17 45.13 L582.35 44.80 L583.53 44.48 L584.71 44.16 L585.89 43.84 L587.07 43.52 L588.25 43.21 L589.42 42.90 L590.60 42.58 L591.78 42.28 L592.96 41.97 L594.14 41.67 L595.32 41.36 L596.50 41.06 L597.67 40.77 L598.85 40.47 L600.03 40.18 L601.21 39.89 L602.39 39.60 L603.57 39.31 L604.75 39.02 L605.93 38.74 L607.11 38.46 L608.28 38.18 L609.46 37.90 L610.64 37.62 L611.82 37.35 L613.00 37.07 L614.18 36.80 L615.36 36.53 L616.53 36.27 L617.71 36.00 L618.89 35.74 L620.07 35.47 L621.25 35.21 L622.43 34.95 L623.61 34.70 L624.79 34.44 L625.96 34.19 L627.14 33.93 L628.32 33.68 L629.50 33.43 L630.68 33.19 L631.86 32.94 L633.04 32.70 L634.22 32.45 L635.39 32.21 L636.57 31.97 L637.75 31.73 L638.93 31.50 L640.11 31.26 L641.29 31.03 L642.47 30.79 L643.65 30.56 L644.83 30.33" fill="none" stroke="#8c564b" stroke-width="1.40" stroke-dasharray="4.44 1.92"/>
<path d="M384.51 199.92 L389.31 204.72 M384.51 204.72 L389.31 199.92" stroke="#1f77b4" stroke-width="1.1" fill="none"/>
<line x1="417.18" y1="158.58" x2="417.18" y2="161.58" stroke="#1f77b4" stroke-width="1.1"/>
<path d="M414.78 157.68 L419.58 162.48 M414.78 162.48 L419.58 157.68" stroke="#1f77b4" stroke-width="1.1" fill="none"/>
<line x1="444.39" y1="137.03" x2="444.39" y2="145.43" stroke="#1f77b4" stroke-width="1.1"/>
<path d="M441.99 138.83 L446.79 143.63 M441.99 143.63 L446.79 138.83" stroke="#1f77b4" stroke-width="1.1" fill="none"/>
<line x1="476.97" y1="105.72" x2="476.97" y2="108.72" stroke="#1f77b4" stroke-width="1.1"/>
<path d="M474.57 104.82 L479.37 109.62 M474.57 109.62 L479.37 104.82" stroke="#1f77b4" stroke-width="1.1" fill="none"/>
<line x1="509.03" y1="78.40" x2="509.03" y2="84.40" stroke="#1f77b4" stroke-width="1.1"/>
<path d="M506.63 79.00 L511.43 83.80 M506.63 83.80 L511.43 79.00" stroke="#1f77b4" stroke-width="1.1" fill="none"/>
<line x1="557.74" y1="34.46" x2="557.74" y2="51.26" stroke="#1f77b4" stroke-width="1.1"/>
<path d="M555.34 40.46 L560.14 45.26 M555.34 45.26 L560.14 40.46" stroke="#1f77b4" stroke-width="1.1" fill="none"/>
<line x1="579.29" y1="44.03" x2="579.29" y2="48.03" stroke="#1f77b4" stroke-width="1.1"/>
<path d="M576.89 43.63 L581.69 48.43 M576.89 48.43 L581.69 43.63" stroke="#1f77b4" stroke-width="1.1" fill="none"/>
<line x1="600.32" y1="18.81" x2="600.32" y2="21.81" stroke="#1f77b4" stroke-width="1.1"/>
<path d="M597.92 17.91 L602.72 22.71 M597.92 22.71 L602.72 17.91" stroke="#1f77b4" stroke-width="1.1" fill="none"/>
<line x1="622.66" y1="38.41" x2="622.66" y2="43.41" stroke="#1f77b4" stroke-width="1.1"/>
<path d="M620.26 38.51 L625.06 43.31 M620.26 43.31 L625.06 38.51" stroke="#1f77b4" stroke-width="1.1" fill="none"/>
<line x1="633.27" y1="18.13" x2="633.27" y2="21.13" stroke="#1f77b4" stroke-width="1.1"/>
<path d="M630.87 17.23 L635.67 22.03 M630.87 22.03 L635.67 17.23" stroke="#1f77b4" stroke-width="1.1" fill="none"/>
<rect x="372.60" y="0.30" width="285.00" height="212.00" fill="none" stroke="#000" stroke-width="0.64"/>
<line x1="385.50" y1="212.30" x2="385.50" y2="215.10" stroke="#000" stroke-width="0.64"/>
<text x="385.50" y="224.60" font-size="8.40" text-anchor="middle">0</text>
<line x1="432.65" y1="212.30" x2="432.65" y2="215.10" stroke="#000" stroke-width="0.64"/>
<text x="432.65" y="224.60" font-size="8.40" text-anchor="middle">1</text>
<line x1="479.80" y1="212.30" x2="479.80" y2="215.10" stroke="#000" stroke-width="0.64"/>
<text x="479.80" y="224.60" font-size="8.40" text-anchor="middle">2</text>
<line x1="526.95" y1="212.30" x2="526.95" y2="215.10" stroke="#000" stroke-width="0.64"/>
<text x="526.95" y="224.60" font-size="8.40" text-anchor="middle">3</text>
<line x1="574.10" y1="212.30" x2="574.10" y2="215.10" stroke="#000" stroke-width="0.64"/>
<text x="574.10" y="224.60" font-size="8.40" text-anchor="middle">4</text>
<line x1="621.25" y1="212.30" x2="621.25" y2="215.10" stroke="#000" stroke-width="0.64"/>
<text x="621.25" y="224.60" font-size="8.40" text-anchor="middle">5</text>
<line x1="369.80" y1="190.70" x2="372.60" y2="190.70" stroke="#000" stroke-width="0.64"/>
<text x="366.90" y="193.71" font-size="8.40" text-anchor="end">1.0</text>
<line x1="369.80" y1="164.30" x2="372.60" y2="164.30" stroke="#000" stroke-width="0.64"/>
<text x="366.90" y="167.31" font-size="8.40" text-anchor="end">1.5</text>
<line x1="369.80" y1="137.90" x2="372.60" y2="137.90" stroke="#000" stroke-width="0.64"/>
<text x="366.90" y="140.91" font-size="8.40" text-anchor="end">2.0</text>
<line x1="369.80" y1="111.50" x2="372.60" y2="111.50" stroke="#000" stroke-width="0.64"/>
<text x="366.90" y="114.51" font-size="8.40" text-anchor="end">2.5</text>
<line x1="369.80" y1="85.10" x2="372.60" y2="85.10" stroke="#000" stroke-width="0.64"/>
<text x="366.90" y="88.11" font-size="8.40" text-anchor="end">3.0</text>
<line x1="369.80" y1="58.70" x2="372.60" y2="58.70" stroke="#000" stroke-width="0.64"/>
<text x="366.90" y="61.71" font-size="8.40" text-anchor="end">3.5</text>
<line x1="369.80" y1="32.30" x2="372.60" y2="32.30" stroke="#000" stroke-width="0.64"/>
<text x="366.90" y="35.31" font-size="8.40" text-anchor="end">4.0</text>
<line x1="369.80" y1="5.90" x2="372.60" y2="5.90" stroke="#000" stroke-width="0.64"/>
<text x="366.90" y="8.91" font-size="8.40" text-anchor="end">4.5</text>
<text x="515.10" y="235.60" font-size="8.40" text-anchor="middle">Dose (Gy/pulse)</text>
<text transform="translate(349.60 106.50) rotate(-90)" font-size="9.00" text-anchor="middle" font-style="italic" letter-spacing="0">k<tspan font-size="6.80" dy="1.3" dx="-0.2">s</tspan></text>
<text x="510.40" y="263.20" font-size="13.2" font-weight="bold" fill="#000" letter-spacing="0" text-anchor="middle">b</text>
<line x1="501.90" y1="136.20" x2="517.90" y2="136.20" stroke="#ff7f0e" stroke-width="1.4" stroke-dasharray="4.44 1.92"/>
<text x="524.30" y="139.20" font-size="8.40" font-style="italic">k</text>
<text x="528.90" y="141.10" font-size="6.50" font-style="italic" letter-spacing="0" textLength="8.80" lengthAdjust="spacingAndGlyphs">s,&#8201;L</text>
<text x="538.70" y="139.20" font-size="8.40" textLength="111.00" lengthAdjust="spacing">(600<tspan font-style="italic">V</tspan>), <tspan font-style="italic">α</tspan> = 0.967, <tspan font-style="italic">β</tspan> = 0.66</text>
<line x1="501.90" y1="149.10" x2="517.90" y2="149.10" stroke="#2ca02c" stroke-width="1.4" stroke-dasharray="4.44 1.92"/>
<text x="524.30" y="152.10" font-size="8.40" font-style="italic">k</text>
<text x="528.90" y="154.00" font-size="6.50" font-style="italic" letter-spacing="0" textLength="15.50" lengthAdjust="spacingAndGlyphs">s,&#8201;DM</text>
<text x="545.40" y="152.10" font-size="8.40" textLength="70.20" lengthAdjust="spacing">(600<tspan font-style="italic">V</tspan>), <tspan font-style="italic">p</tspan> = 0.221</text>
<line x1="501.90" y1="161.90" x2="517.90" y2="161.90" stroke="#d62728" stroke-width="1.4" stroke-dasharray="4.44 1.92"/>
<text x="524.30" y="164.90" font-size="8.40" font-style="italic">k</text>
<text x="528.80" y="166.10" font-size="6.00" font-style="italic" letter-spacing="0">s</text>
<line x1="530.35" y1="158.60" x2="529.80" y2="160.80" stroke="#1a1a1a" stroke-width="0.7"/>
<text x="532.50" y="164.90" font-size="8.40" textLength="71.50" lengthAdjust="spacing">(600<tspan font-style="italic">V</tspan>), <tspan font-style="italic">p</tspan> = 0.211</text>
<line x1="501.90" y1="174.60" x2="517.90" y2="174.60" stroke="#9467bd" stroke-width="1.4" stroke-dasharray="4.44 1.92"/>
<text x="524.30" y="177.60" font-size="8.40" font-style="italic">k</text>
<text x="528.80" y="178.80" font-size="6.00" font-style="italic" letter-spacing="0">s</text>
<line x1="530.35" y1="171.30" x2="529.80" y2="173.50" stroke="#1a1a1a" stroke-width="0.7"/>
<line x1="531.60" y1="171.30" x2="531.05" y2="173.50" stroke="#1a1a1a" stroke-width="0.7"/>
<text x="532.90" y="177.60" font-size="8.40" textLength="71.80" lengthAdjust="spacing">(600<tspan font-style="italic">V</tspan>), <tspan font-style="italic">p</tspan> = 0.152</text>
<line x1="501.90" y1="187.30" x2="517.90" y2="187.30" stroke="#8c564b" stroke-width="1.4" stroke-dasharray="4.44 1.92"/>
<text x="524.30" y="190.30" font-size="8.40" font-style="italic">k</text>
<text x="528.80" y="191.50" font-size="6.00" font-style="italic" letter-spacing="0">s</text>
<line x1="530.35" y1="184.00" x2="529.80" y2="186.20" stroke="#1a1a1a" stroke-width="0.7"/>
<line x1="531.60" y1="184.00" x2="531.05" y2="186.20" stroke="#1a1a1a" stroke-width="0.7"/>
<line x1="532.85" y1="184.00" x2="532.30" y2="186.20" stroke="#1a1a1a" stroke-width="0.7"/>
<text x="534.20" y="190.30" font-size="8.40" textLength="71.50" lengthAdjust="spacing">(600<tspan font-style="italic">V</tspan>), <tspan font-style="italic">p</tspan> = 0.186</text>
<line x1="509.90" y1="196.40" x2="509.90" y2="204.40" stroke="#1f77b4" stroke-width="1.2"/>
<path d="M507.50 198.00 L512.30 202.80 M507.50 202.80 L512.30 198.00" stroke="#1f77b4" stroke-width="1.1" fill="none"/>
<text x="524.30" y="203.40" font-size="8.40" font-style="italic">k</text>
<text x="528.90" y="205.30" font-size="6.50" font-style="italic" letter-spacing="0" textLength="15.60" lengthAdjust="spacingAndGlyphs">s,&#8201;abs</text>
<text x="545.50" y="203.40" font-size="8.40" textLength="26.80" lengthAdjust="spacing">(600<tspan font-style="italic">V</tspan>)</text>
</g></svg>
</body></html>
